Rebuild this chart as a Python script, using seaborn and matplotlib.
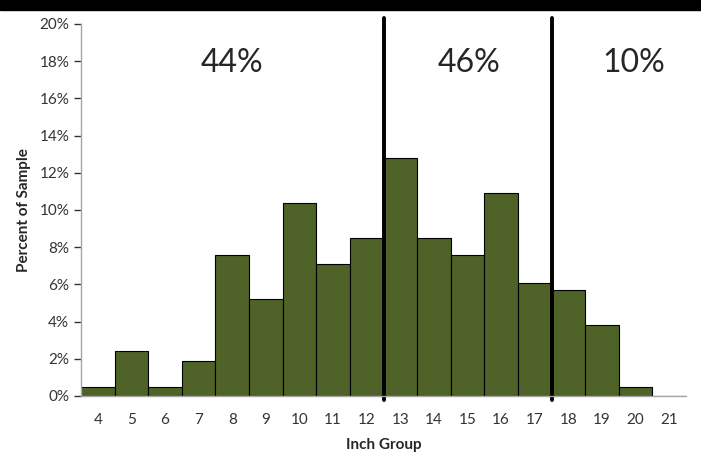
import matplotlib
matplotlib.use("Agg")
import matplotlib.pyplot as plt
import matplotlib.patches as mpatches
import pandas as pd
import seaborn as sns

# inch groups and share of sample (%)
inch_groups = [str(i) for i in range(4, 22)]
pct_sample = [0.5, 2.4, 0.5, 1.9, 7.6, 5.2, 10.4, 7.1, 8.5, 12.8,
              8.5, 7.6, 10.9, 6.1, 5.7, 3.8, 0.5, 0.0]

# group split points (between categories) and group shares
split_after = ["12", "17"]
group_labels = ["44%", "46%", "10%"]

sns.set_style("white")
plt.rcParams['font.family'] = ['Lato', 'DejaVu Sans']

df = pd.DataFrame({"group": inch_groups, "pct": pct_sample})

fig = plt.figure(figsize=(7.01, 4.58), dpi=100)
ax = fig.add_axes([0.1156, 0.1354, 0.8630, 0.8122])

sns.barplot(data=df, x="group", y="pct", color="#4F6228", width=1.0,
            edgecolor="black", linewidth=0.8, saturation=1, ax=ax)

ax.set_ylim(0, 20)
ax.set_xlim(-0.5, len(inch_groups) - 0.5)
ax.set_yticks(range(0, 21, 2))
ax.set_yticklabels([f"{v}%" for v in range(0, 21, 2)])

# x ticks sit on the category boundaries, labels in the middle
ax.set_xticks([i + 0.5 for i in range(len(inch_groups) - 1)] + [-0.5], minor=True)
ax.tick_params(axis="x", which="major", length=0, pad=12, labelsize=11, colors="#333333")
ax.tick_params(axis="x", which="minor", length=5, color="#A6A6A6", width=1)
ax.tick_params(axis="y", length=5, width=1, labelsize=11, colors="#333333", left=True)
for t in ax.get_yticklines():
    t.set_color("#A6A6A6")

for side in ["top", "right"]:
    ax.spines[side].set_visible(False)
for side in ["left", "bottom"]:
    ax.spines[side].set_color("#A6A6A6")
    ax.spines[side].set_linewidth(1)

ax.set_xlabel("Inch Group", fontweight="bold", fontsize=11, labelpad=8)
ax.set_ylabel("Percent of Sample", fontweight="bold", fontsize=11, labelpad=6)

split_pos = [inch_groups.index(s) + 0.5 for s in split_after]
for pos in split_pos:
    ax.axvline(pos, ymin=-0.01, ymax=1.015, color="black", linewidth=2.8, clip_on=False)

# group share labels centred roughly in each section
bounds = [-0.5] + split_pos + [len(inch_groups) - 0.5]
label_x = [4.0, 11.05, 15.95]
for lab, xpos in zip(group_labels, label_x):
    ax.text(xpos, 17.9, lab, ha="center", va="center", fontsize=23)

# black band across the top
fig.patches.append(mpatches.Rectangle((0, 1 - 10 / 458), 1, 10 / 458,
                                      transform=fig.transFigure, color="black", zorder=0))

fig.savefig("out.png", dpi=100)
